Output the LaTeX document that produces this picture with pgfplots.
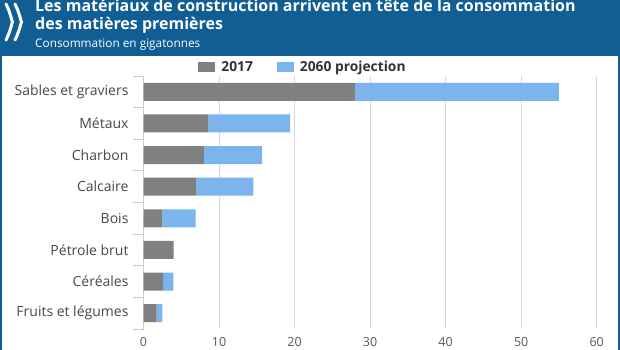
\documentclass[border=0pt]{standalone}
\usepackage{fontspec}
\setmainfont{Open Sans}
\usepackage{pgfplots}
\pgfplotsset{compat=1.18}
\definecolor{oecdblue}{RGB}{16,94,148}
\definecolor{bargrey}{RGB}{128,128,128}
\definecolor{barblue}{RGB}{124,181,236}
\definecolor{gridgrey}{RGB}{216,216,216}
\definecolor{axisblue}{RGB}{192,206,222}
\definecolor{labeltext}{RGB}{72,72,72}
\definecolor{ticktext}{RGB}{90,90,90}
\definecolor{legendtext}{RGB}{51,51,51}
\begin{document}
\begin{tikzpicture}
\useasboundingbox (0,0) rectangle (620pt,350pt);
\clip (0,0) rectangle (620pt,350pt);
\fill[oecdblue] (0,0) rectangle (620pt,350pt);
\fill[white] (2pt,0) rectangle (618pt,294pt);
% logo
\draw[white, line width=3pt, line cap=round] (6pt,346pt) .. controls (11pt,336pt) and (12pt,328pt) .. (12.5pt,328pt) .. controls (12pt,328pt) and (11pt,320pt) .. (6pt,310pt);
\draw[white, line width=3pt, line cap=round] (15pt,346pt) .. controls (20pt,336pt) and (21pt,328pt) .. (21.5pt,328pt) .. controls (21pt,328pt) and (20pt,320pt) .. (15pt,310pt);
\node[anchor=base west, inner sep=0, text=white, font=\fontsize{16}{18}\selectfont\bfseries] at (35pt,338.5pt) {Les matériaux de construction arrivent en tête de la consommation};
\node[anchor=base west, inner sep=0, text=white, font=\fontsize{16}{18}\selectfont\bfseries] at (35pt,320pt) {des matières premières};
\node[anchor=base west, inner sep=0, text=white, font=\fontsize{11.8}{13}\selectfont] at (35pt,302.5pt) {Consommation en gigatonnes};
\begin{axis}[
  at={(143.5pt,21pt)}, anchor=south west,
  scale only axis, width=453.2pt, height=253pt,
  xbar stacked, bar width=18pt,
  xmin=0, xmax=60, ymin=-0.5, ymax=7.5, y dir=reverse,
  xtick={0,10,...,60},
  ytick={0,...,7},
  yticklabels={Sables et graviers, Métaux, Charbon, Calcaire, Bois, Pétrole brut, Céréales, Fruits et légumes},
  minor ytick={-0.5,0.5,...,7.5},
  axis x line*=bottom, axis y line*=left,
  x axis line style={draw=none},
  y axis line style={draw=axisblue, line width=0.8pt},
  xtick style={draw=none},
  major tick length=0pt,
  minor tick length=11pt,
  tick align=outside,
  minor y tick style={draw=axisblue, line width=0.8pt},
  major y tick style={draw=none},
  xmajorgrids, major grid style={draw=gridgrey, line width=0.8pt},
  xticklabel style={font=\fontsize{12.5}{14}\selectfont, text=ticktext, anchor=center, yshift=-13.5pt},
  yticklabel style={font=\fontsize{14}{16}\selectfont, text=labeltext, anchor=east, xshift=-11.5pt},
  /pgf/number format/assume math mode=true,
  legend style={at={(axis description cs:0.352,1.035)}, anchor=center, draw=none, fill=none,
    legend columns=2, font=\fontsize{13.8}{15}\selectfont\bfseries, text=legendtext,
    /tikz/every even column/.append style={column sep=22pt}},
  legend image code/.code={\fill[#1] (0pt,-5pt) rectangle (17pt,5.5pt); \path (0pt,0pt) -- (21pt,0pt);},
]
\addplot[fill=bargrey, draw=none] coordinates {(28.0,0) (8.6,1) (8.0,2) (6.95,3) (2.5,4) (4.0,5) (2.6,6) (1.75,7)};
\addplot[fill=barblue, draw=none] coordinates {(27.0,0) (10.8,1) (7.7,2) (7.6,3) (4.4,4) (0,5) (1.35,6) (0.75,7)};
\legend{2017, 2060 projection}
\end{axis}
\end{tikzpicture}
\end{document}
